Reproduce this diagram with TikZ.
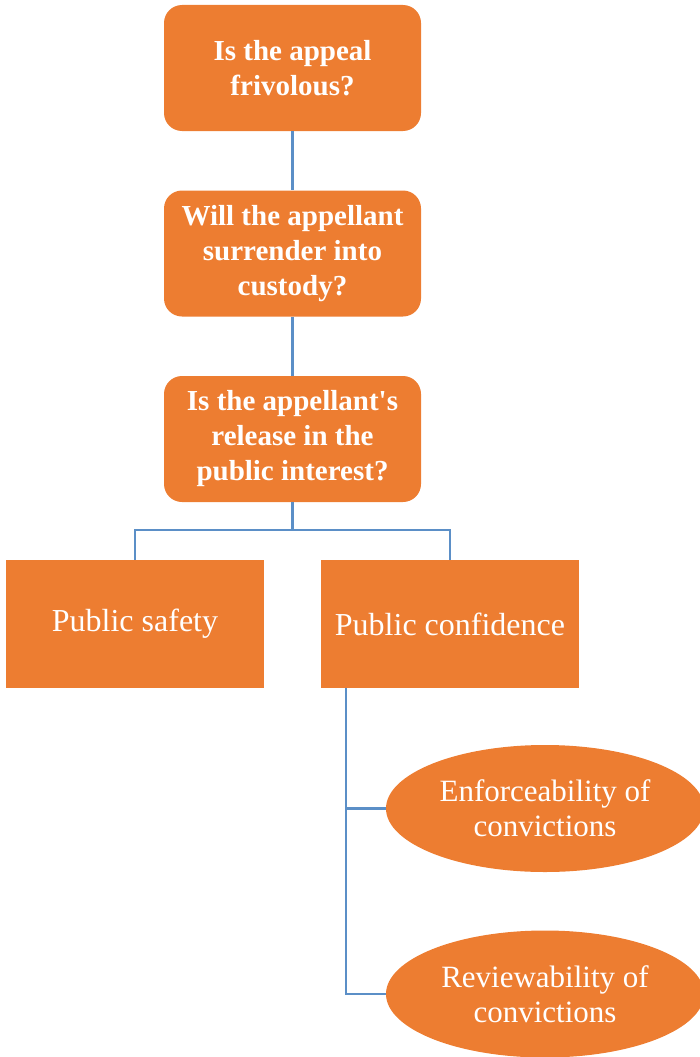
\documentclass[tikz,border=0pt]{standalone}
\usepackage{fontspec}
\setmainfont{Liberation Serif}
\usetikzlibrary{shapes.geometric}
\definecolor{boxorange}{HTML}{ED7D31}
\definecolor{lineblue}{HTML}{5B8FC7}
\tikzset{
  rbox/.style={fill=boxorange, draw=none, rounded corners=18pt, minimum width=257pt, minimum height=126pt, inner sep=0pt, text=white, align=center, font=\fontsize{29}{35}\selectfont\bfseries},
  sbox/.style={fill=boxorange, draw=none, minimum width=258pt, minimum height=128pt, inner sep=0pt, text=white, align=center, font=\fontsize{32}{35}\selectfont},
  ebox/.style={ellipse, fill=boxorange, draw=none, minimum width=318pt, minimum height=127pt, inner sep=0pt, text=white, align=center, font=\fontsize{31}{35}\selectfont},
  conn/.style={draw=lineblue, line width=2.7pt}
}
\begin{document}
\begin{tikzpicture}[x=1pt, y=-1pt]
\useasboundingbox (0,0) rectangle (700,1057);
\node[rbox] (q1) at (292.5,68) {Is the appeal\\frivolous?};
\node[rbox] (q2) at (292.5,253.5) {Will the appellant\\surrender into\\custody?};
\node[rbox] (q3) at (292.5,439) {Is the appellant\textquotesingle s\\release in the\\public interest?};
\node[sbox] (ps) at (135,624) {Public safety};
\node[sbox] (pc) at (450,624) {Public confidence};
\node[ebox] (en) at (545,808.5) {Enforceability of\\convictions};
\node[ebox] (rv) at (545,994) {Reviewability of\\convictions};
\coordinate (split) at (292.5,530);
\coordinate (trunk) at (346,688);
\draw[conn] (q1.south) -- (q2.north);
\draw[conn] (q2.south) -- (q3.north);
\draw[conn] (q3.south) -- (split);
\draw[conn] (split) -| (ps.north);
\draw[conn] (split) -| (pc.north);
\draw[conn] (trunk) |- (en.west);
\draw[conn] (trunk) |- (rv.west);
\end{tikzpicture}
\end{document}
